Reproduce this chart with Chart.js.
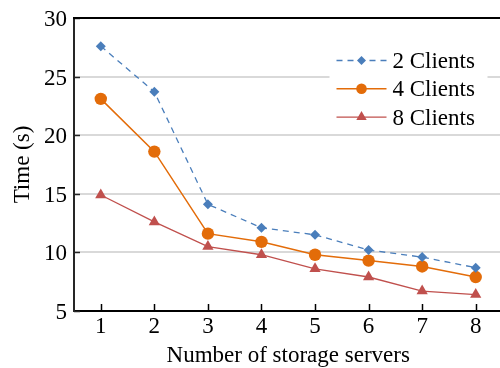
<!DOCTYPE html>
<html>
<head>
<meta charset="utf-8">
<script src="https://cdn.jsdelivr.net/npm/chart.js@4.4.1/dist/chart.umd.min.js"></script>
<style>
  html, body { margin: 0; padding: 0; overflow: hidden; background: #fff; }
  #wrap { width: 509px; height: 368px; position: relative; }
</style>
</head>
<body>
<div id="wrap"><canvas id="chart"></canvas></div>
<script>
// Number of storage servers on the x axis
const servers = ['1', '2', '3', '4', '5', '6', '7', '8'];
// Completion time (s) per client count
const clients2 = [27.6, 23.7, 14.1, 12.1, 11.5, 10.2, 9.6, 8.7];
const clients4 = [23.1, 18.6, 11.6, 10.9, 9.8, 9.3, 8.8, 7.9];
const clients8 = [14.9, 12.6, 10.5, 9.8, 8.6, 7.9, 6.7, 6.4];
const seriesNames = ['2 Clients', '4 Clients', '8 Clients'];
const yMin = 5, yMax = 30, yStep = 5;

const FONT = 'Liberation Serif, "Times New Roman", serif';
const BLUE = '#4A7EBB', ORANGE = '#E36C09', RED = '#C0504D';

// Inward tick marks and the closing top border of the plot area
const frame = {
  id: 'frame',
  beforeDatasetsDraw(chart) {
    const { ctx, chartArea: a, scales } = chart;
    ctx.save();
    ctx.strokeStyle = '#262626';
    ctx.lineWidth = 1.5;
    scales.y.ticks.forEach((t, i) => {
      const y = Math.round(scales.y.getPixelForTick(i)) + 0.5;
      ctx.beginPath(); ctx.moveTo(a.left, y); ctx.lineTo(a.left + 6, y); ctx.stroke();
    });
    ctx.strokeStyle = '#000';
    scales.x.ticks.forEach((t, i) => {
      const x = Math.round(scales.x.getPixelForTick(i)) + 0.5;
      ctx.beginPath(); ctx.moveTo(x, a.bottom); ctx.lineTo(x, a.bottom - 7); ctx.stroke();
    });
    ctx.lineWidth = 2;
    ctx.beginPath(); ctx.moveTo(a.left - 1, a.top); ctx.lineTo(a.right + 2, a.top); ctx.stroke();
    ctx.restore();
  }
};

// Legend drawn inside the plot, upper right, with line + marker samples
const innerLegend = {
  id: 'innerLegend',
  afterDatasetsDraw(chart) {
    const { ctx, chartArea: a } = chart;
    const boxL = a.right - 173, boxT = a.top + 27, boxW = 158, boxH = 86;
    ctx.save();
    ctx.fillStyle = '#fff';
    ctx.fillRect(boxL, boxT, boxW, boxH);
    chart.data.datasets.forEach((ds, i) => {
      const cy = a.top + 42 + i * 28.3;
      const x0 = boxL + 7, x1 = boxL + 57, mx = (x0 + x1) / 2;
      ctx.strokeStyle = ds.borderColor;
      ctx.lineWidth = ds.borderWidth;
      ctx.setLineDash(ds.borderDash || []);
      ctx.beginPath(); ctx.moveTo(x0, cy + 0.5); ctx.lineTo(x1, cy + 0.5); ctx.stroke();
      ctx.setLineDash([]);
      ctx.fillStyle = ds.pointBackgroundColor;
      ctx.strokeStyle = ds.pointBorderColor;
      Chart.helpers.drawPoint(ctx, {
        pointStyle: ds.pointStyle, radius: ds.legendRadius, rotation: 0, borderWidth: 0
      }, mx, cy + 0.5);
      ctx.fillStyle = '#000';
      ctx.font = '23px ' + FONT;
      ctx.textAlign = 'left';
      ctx.textBaseline = 'middle';
      ctx.fillText(ds.label, x1 + 6, cy + 2);
    });
    ctx.restore();
  }
};

new Chart(document.getElementById('chart'), {
  type: 'line',
  data: {
    labels: servers,
    datasets: [
      {
        label: seriesNames[0], data: clients2,
        borderColor: BLUE, borderWidth: 1.3, borderDash: [6, 5],
        pointStyle: 'rectRot', pointRadius: 5, legendRadius: 4.5,
        pointBackgroundColor: BLUE, pointBorderColor: BLUE, pointBorderWidth: 0
      },
      {
        label: seriesNames[1], data: clients4,
        borderColor: ORANGE, borderWidth: 1.5,
        pointStyle: 'circle', pointRadius: 6.2, legendRadius: 5.3,
        pointBackgroundColor: ORANGE, pointBorderColor: ORANGE, pointBorderWidth: 0
      },
      {
        label: seriesNames[2], data: clients8,
        borderColor: RED, borderWidth: 1.3,
        pointStyle: 'triangle', pointRadius: 6.5, legendRadius: 6,
        pointBackgroundColor: RED, pointBorderColor: RED, pointBorderWidth: 0
      }
    ]
  },
  options: {
    responsive: true,
    maintainAspectRatio: false,
    animation: false,
    layout: { padding: { top: 18, right: 0, left: 0, bottom: 0 } },
    plugins: { legend: { display: false }, tooltip: { enabled: false } },
    elements: { line: { tension: 0 } },
    scales: {
      x: {
        type: 'category',
        offset: true,
        grid: { display: true, drawOnChartArea: false, drawTicks: false },
        border: { display: true, color: '#000', width: 2 },
        ticks: { color: '#000', font: { family: FONT, size: 23 }, padding: 2 },
        title: {
          display: true, text: 'Number of storage servers', color: '#000',
          font: { family: FONT, size: 23 }, padding: { top: 0, bottom: -2 }
        },
        afterFit(s) { s.height = 57; }
      },
      y: {
        min: yMin, max: yMax,
        ticks: {
          stepSize: yStep, color: '#000', font: { family: FONT, size: 23 },
          padding: 7, labelOffset: 2
        },
        grid: { color: '#d9d9d9', lineWidth: 2, drawTicks: false },
        border: { display: true, color: '#262626', width: 2 },
        title: {
          display: true, text: 'Time (s)', color: '#000',
          font: { family: FONT, size: 23 }, padding: { top: 9, bottom: 0 }
        },
        afterFit(s) { s.width = 74; s.paddingTop = 0; s.paddingBottom = 0; }
      }
    }
  },
  plugins: [frame, innerLegend]
});
</script>
</body>
</html>
